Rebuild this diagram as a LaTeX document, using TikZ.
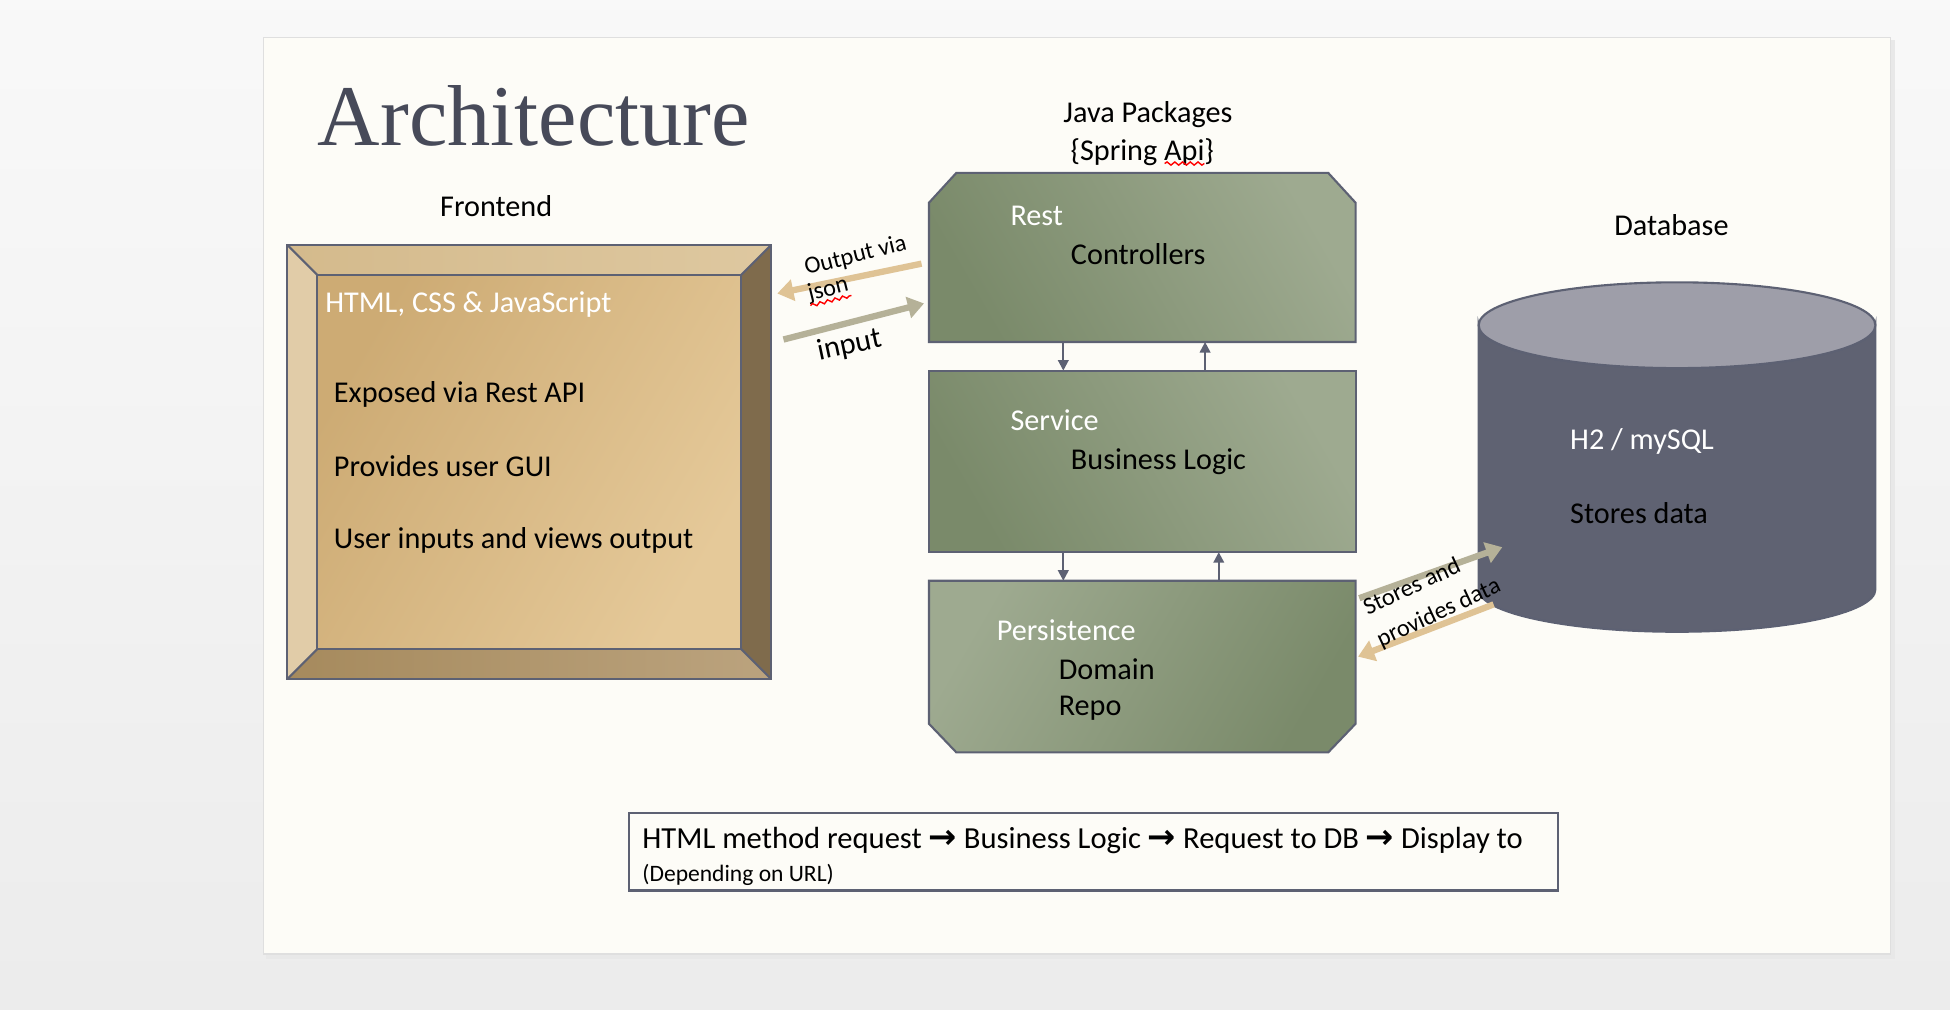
\documentclass[tikz,border=0pt]{standalone}
\usepackage{fontspec}
\setmainfont{Carlito}
\newfontfamily\titlefont{Liberation Serif}
\newfontfamily\arrowfont{DejaVu Sans}
\usetikzlibrary{arrows.meta, calc, fit, decorations.pathmorphing}

\definecolor{slidebg}{RGB}{253,252,247}
\definecolor{slate}{RGB}{93,97,115}
\definecolor{titlecol}{RGB}{71,74,89}
\definecolor{greendark}{RGB}{122,138,106}
\definecolor{greenlight}{RGB}{158,170,144}
\definecolor{golddark}{RGB}{205,171,116}
\definecolor{goldlight}{RGB}{229,201,153}
\definecolor{bevtopa}{RGB}{212,186,140}
\definecolor{bevtopb}{RGB}{222,200,160}
\definecolor{bevleft}{RGB}{225,204,168}
\definecolor{bevright}{RGB}{127,107,76}
\definecolor{bevbota}{RGB}{166,138,93}
\definecolor{bevbotb}{RGB}{187,163,126}
\definecolor{dbbody}{RGB}{95,98,114}
\definecolor{dbtop}{RGB}{158,158,169}
\definecolor{tanarrow}{RGB}{223,195,149}
\definecolor{greyarrow}{RGB}{181,177,152}

\newcommand\mainsize{\fontsize{8.6}{10.3}\selectfont}
\newcommand\notesize{\fontsize{6.9}{8.3}\selectfont}
\newcommand\subsize{\fontsize{6.7}{8}\selectfont}
\newcommand\flowarrow{{\arrowfont\bfseries\fontsize{9.6}{10}\selectfont →}}

\begin{document}
\begin{tikzpicture}[x=0.012436cm, y=-0.012436cm,
    box/.style={inner sep=0, outer sep=0},
    txt/.style={inner sep=0, anchor=west, font=\mainsize, text height=1.4ex, text depth=0pt},
    head/.style={txt, text=white},
    lbl/.style={inner sep=0, font=\mainsize},
    note/.style={inner sep=0, font=\notesize},
    edge/.style={draw=slate, line width=0.6pt},
    greenbox/.style={edge, top color=greenlight, bottom color=greendark},
    flowtip/.style={line width=1.8pt, -{Triangle[width=6pt,length=4.6pt]}},
    layertip/.style={slate, line width=0.6pt, -{Triangle[width=3pt,length=3pt]}},
    squiggle/.style={red, line width=0.4pt, decorate, decoration={snake, amplitude=0.45pt, segment length=2.2pt}}]

    \useasboundingbox (0,0) rectangle (1568,812);
    \shade[top color=gray!5, bottom color=gray!15] (0,0) rectangle (1568,812);
    \fill[gray!18] (214,32) rectangle (1524,771); % slide shadow
    \filldraw[fill=slidebg, draw=gray!25] (212,30) rectangle (1520,767);

    \node[inner sep=0, anchor=base west, font={\titlefont\fontsize{24.6}{28}\selectfont}, text=titlecol] (title) at (255,117) {Architecture};

    % frontend
    \node[lbl] (frontlbl) at (399,166) {Frontend};
    \node[box, fit={(231,197) (620,546)}] (front) {};
    \node[box, fit={(255,221) (596,522)}] (frontin) {};
    \shade[left color=bevtopa, right color=bevtopb] (front.north west) -- (front.north east) -- (frontin.north east) -- (frontin.north west) -- cycle;
    \fill[bevleft] (front.north west) -- (frontin.north west) -- (frontin.south west) -- (front.south west) -- cycle;
    \fill[bevright] (front.north east) -- (front.south east) -- (frontin.south east) -- (frontin.north east) -- cycle;
    \shade[left color=bevbota, right color=bevbotb] (front.south west) -- (frontin.south west) -- (frontin.south east) -- (front.south east) -- cycle;
    \shade[top color=golddark, bottom color=goldlight, shading angle=60] (frontin.north west) rectangle (frontin.south east);
    \draw[edge] (front.north west) rectangle (front.south east);
    \draw[edge] (frontin.north west) rectangle (frontin.south east);
    \draw[edge] (front.north west) -- (frontin.north west) (front.north east) -- (frontin.north east)
        (front.south west) -- (frontin.south west) (front.south east) -- (frontin.south east);
    \node[head] (html) at (261,242) {HTML, CSS \& JavaScript};
    \node[txt] (exposed) at (268,314) {Exposed via Rest API};
    \node[txt] (gui) at (268,373.5) {Provides user GUI};
    \node[txt] (userio) at (268,431.5) {User inputs and views output};

    % java packages
    \node[lbl] (javalbl) at (923,92.5) {Java Packages};
    \node[lbl] (springlbl) at (918.5,122) {\{Spring Api\}};
    \draw[squiggle] ($(springlbl.center)+(18,9.5)$) -- ($(springlbl.center)+(50,9.5)$);

    \node[box, fit={(747,139) (1090,275)}] (rest) {};
    \shadedraw[greenbox, shading angle=-60] (rest.south west) -- ($(rest.north west)+(0,24)$) -- ($(rest.north west)+(22,0)$)
        -- ($(rest.north east)+(-22,0)$) -- ($(rest.north east)+(0,24)$) -- (rest.south east) -- cycle;
    \node[head] (restlbl) at (812,172) {Rest};
    \node[txt] (ctrl) at (860.6,203) {Controllers};

    \node[box, fit={(747,298) (1090,444)}] (service) {};
    \shadedraw[greenbox, shading angle=-60] (service.north west) rectangle (service.south east);
    \node[head] (servlbl) at (812,337) {Service};
    \node[txt] (logic) at (860.6,367.7) {Business Logic};

    \node[box, fit={(747,467) (1090,605)}] (persist) {};
    \shadedraw[greenbox, shading angle=60] (persist.north west) -- ($(persist.south west)+(0,-23)$) -- ($(persist.south west)+(22,0)$)
        -- ($(persist.south east)+(-22,0)$) -- ($(persist.south east)+(0,-23)$) -- (persist.north east) -- cycle;
    \node[head] (perslbl) at (801,505.8) {Persistence};
    \node[txt] (domain) at (850.8,536.6) {Domain};
    \node[txt] (repo) at (850.8,566) {Repo};

    \draw[layertip] ($(rest.south west)+(108,0)$) -- ($(service.north west)+(108,0)$);
    \draw[layertip] ($(service.north west)+(222,0)$) -- ($(rest.south west)+(222,0)$);
    \draw[layertip] ($(service.south west)+(108,0)$) -- ($(persist.north west)+(108,0)$);
    \draw[layertip] ($(persist.north west)+(233,0)$) -- ($(service.south west)+(233,0)$);

    % database
    \node[lbl] (dblbl) at (1344,181) {Database};
    \coordinate (dbtopc) at (1348.5,261.5);
    \coordinate (dbbotc) at (1348.5,474);
    \filldraw[fill=dbbody, edge] ($(dbtopc)+(-159.5,0)$) -- ($(dbbotc)+(-159.5,0)$)
        arc[start angle=180, end angle=0, x radius=159.5, y radius=34]
        -- ($(dbtopc)+(159.5,0)$) arc[start angle=0, end angle=180, x radius=159.5, y radius=34.5] -- cycle;
    \filldraw[fill=dbtop, edge] (dbtopc) ellipse[x radius=159.5, y radius=34.5];
    \node[box, fit={(1189,227) (1508,508)}] (db) {};
    \node[head] (h2) at (1262,352) {H2 / mySQL};
    \node[txt] (stores) at (1262,411.5) {Stores data};

    % data flow arrows
    \draw[flowtip, tanarrow] ($(rest.north west)+(-6,73)$) -- ($(front.north east)+(5,39)$);
    \draw[flowtip, greyarrow] ($(front.north east)+(10,76)$) -- ($(rest.north west)+(-4,105)$);
    \node[note, rotate=14] (outlbl) at (688,206) {Output via};
    \node[note, rotate=14] (jsonlbl) at (666,233) {json};
    \draw[squiggle] (jsonlbl.south west) -- (jsonlbl.south east);
    \node[lbl, rotate=12] (inlbl) at (683,278) {input};

    \draw[flowtip, greyarrow] ($(persist.north east)+(3,14)$) -- ($(db.south west)+(19,-68)$);
    \draw[flowtip, tanarrow] ($(db.south west)+(12,-22)$) -- ($(persist.north east)+(2,61)$);
    \node[note, rotate=25] (storelbl) at (1135,471) {Stores and};
    \node[note, rotate=25] (providelbl) at (1157,493) {provides data};

    \node[box, edge, fit={(506,654) (1253,716)}] (flow) {};
    \node[txt, font={\fontsize{8.7}{10.3}\selectfont}] (flowtxt) at (516,673) {HTML method request \flowarrow{} Business Logic \flowarrow{} Request to DB \flowarrow{} Display to};
    \node[txt, font=\subsize] (flowsub) at (516,699) {(Depending on URL)};

\end{tikzpicture}
\end{document}
